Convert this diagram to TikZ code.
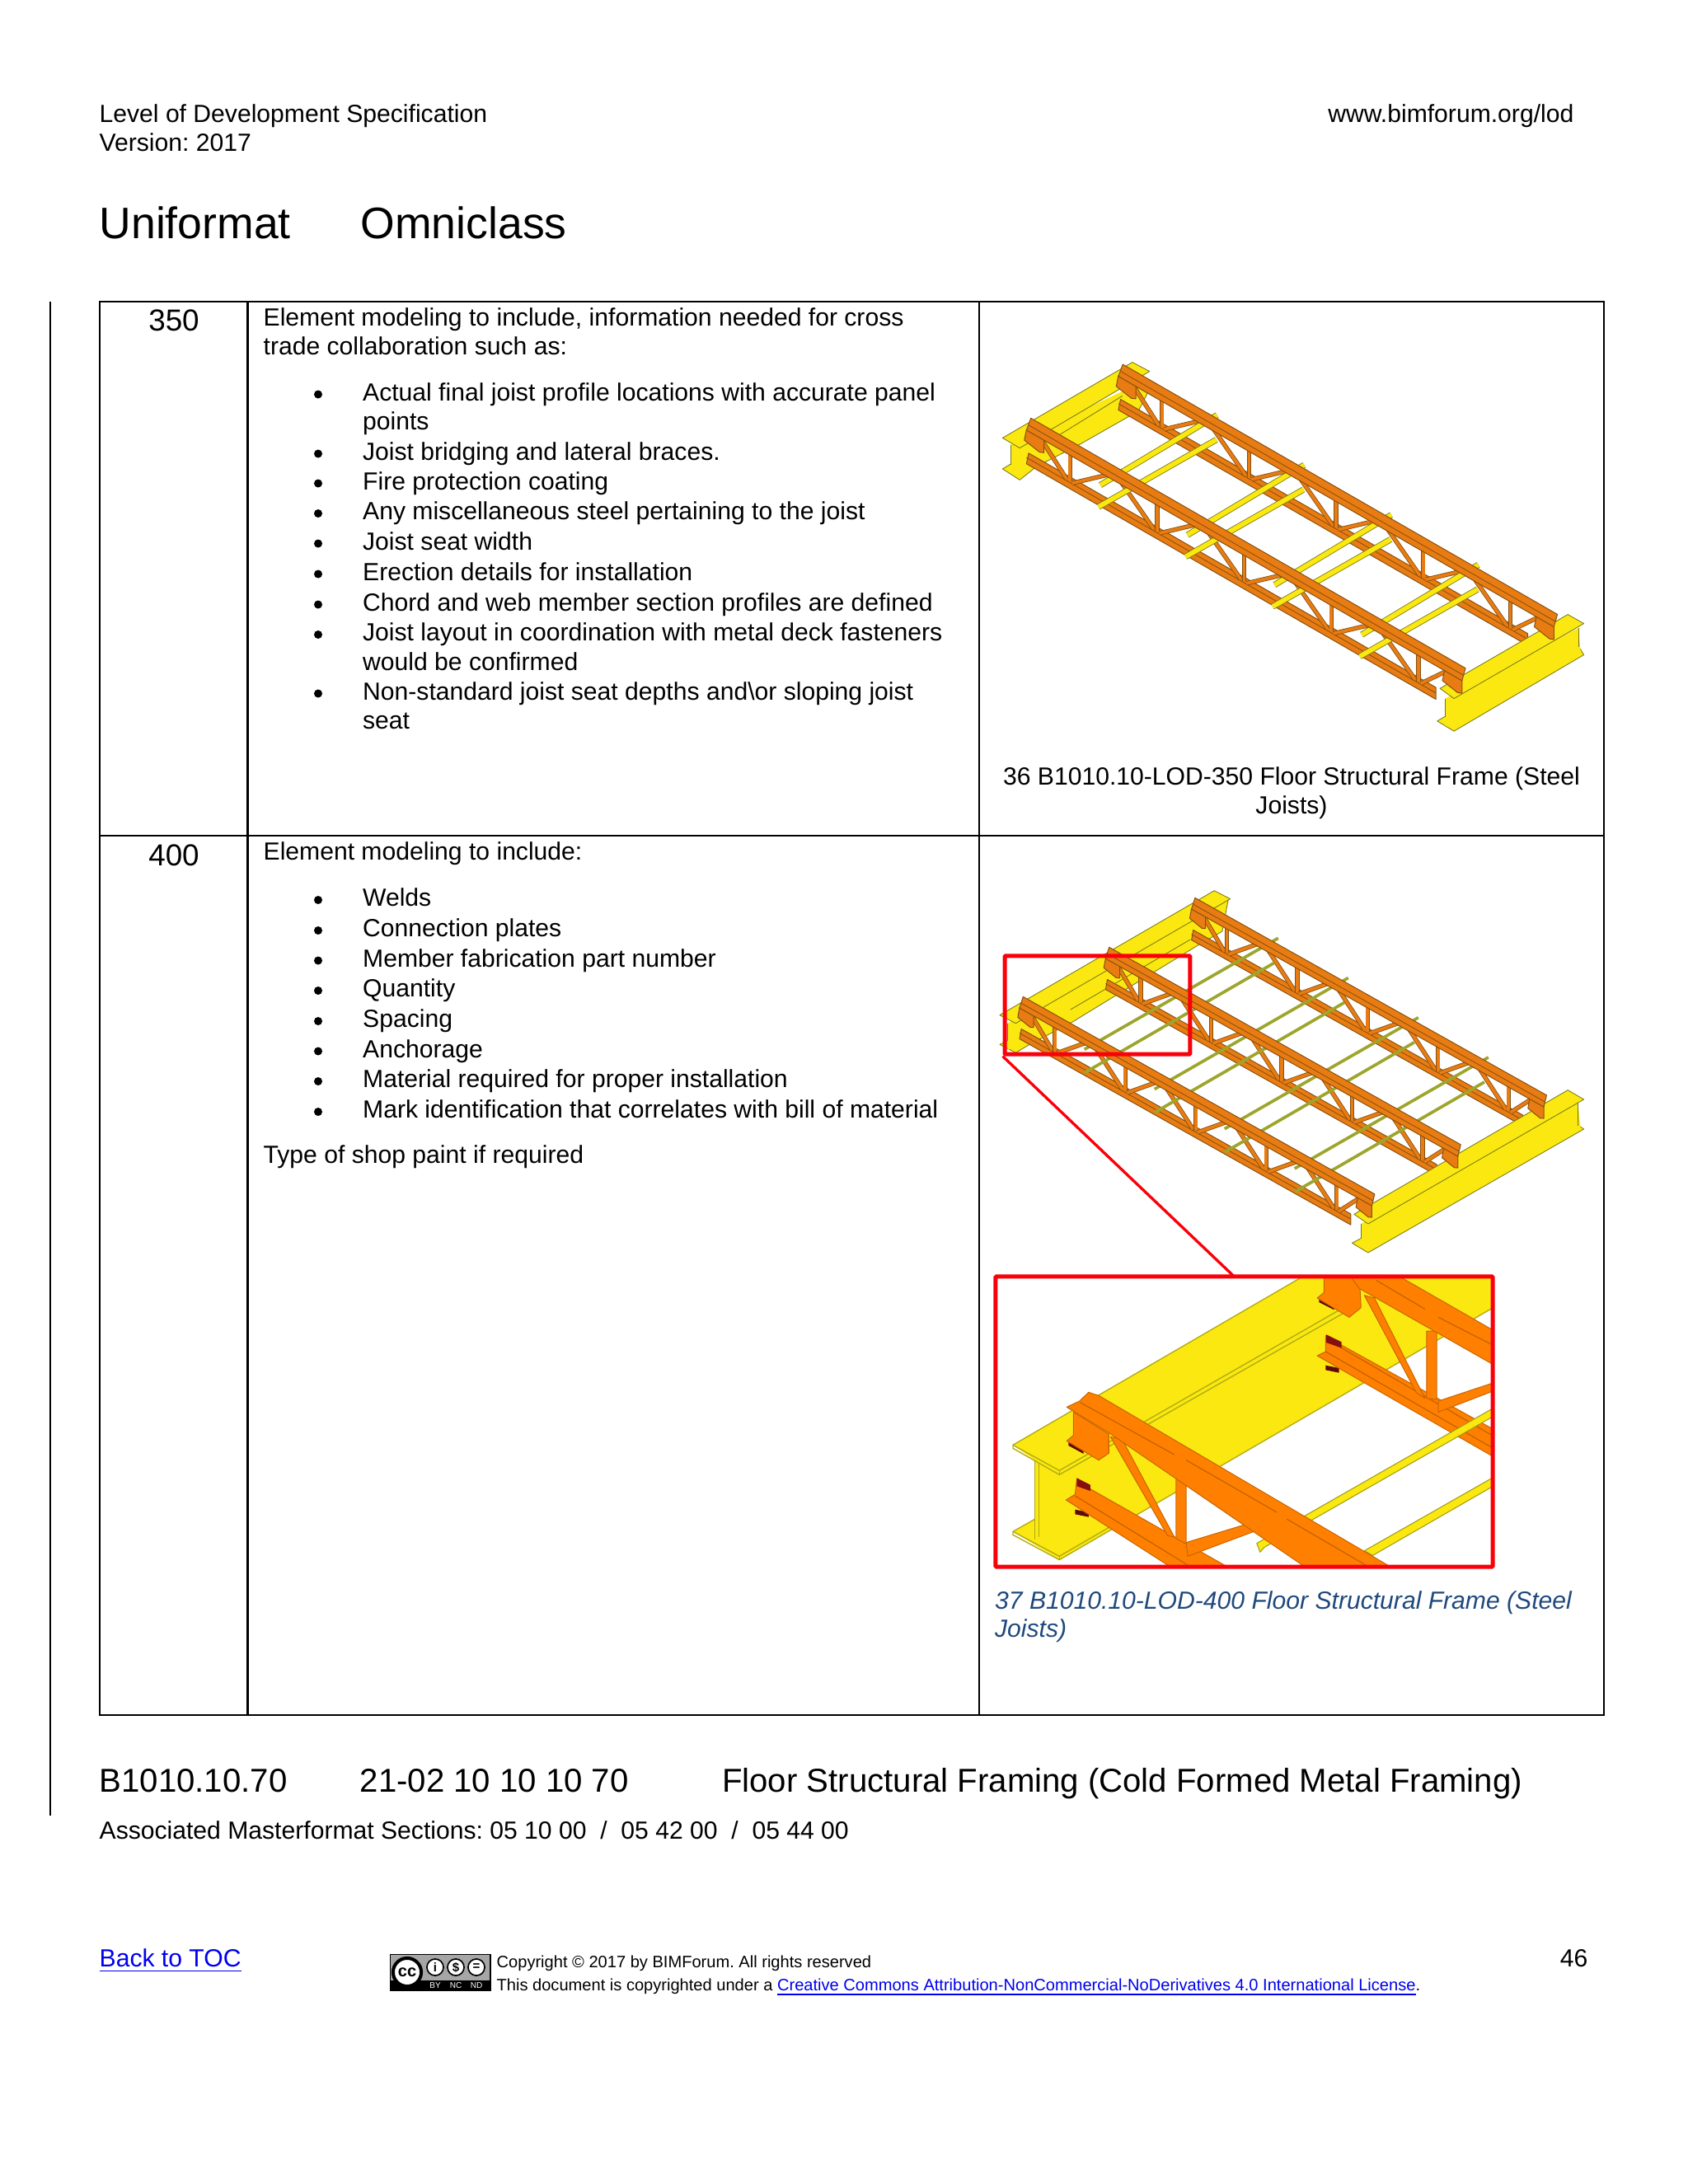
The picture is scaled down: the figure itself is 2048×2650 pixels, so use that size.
\documentclass[tikz,border=0pt]{standalone}
\usepackage{fontspec}
\setmainfont{Liberation Sans}
\usetikzlibrary{positioning}
\definecolor{lodyellow}{RGB}{250,232,16}
\definecolor{lodbeamedge}{RGB}{120,120,20}
\definecolor{lodorange}{RGB}{232,124,18}
\definecolor{lodedge}{RGB}{135,80,15}
\definecolor{lodbright}{RGB}{255,128,0}
\definecolor{lodbrightedge}{RGB}{200,100,0}
\definecolor{lodolive}{RGB}{158,165,45}
\definecolor{lodred}{RGB}{250,0,10}
\definecolor{lodmaroon}{RGB}{135,15,15}
\definecolor{lodlink}{RGB}{0,0,238}
\definecolor{lodcaption}{RGB}{31,73,125}
\tikzset{
  bodytext/.style={anchor=base west,inner sep=0pt,font=\fontsize{9}{10}\selectfont},
  tinytext/.style={anchor=base west,inner sep=0pt,font=\fontsize{6}{7}\selectfont},
  rowlabel/.style={anchor=base,inner sep=0pt,font=\fontsize{11}{12}\selectfont},
  headtext/.style={anchor=base west,inner sep=0pt,font=\fontsize{16}{18}\selectfont},
  nexttext/.style={anchor=base west,inner sep=0pt,font=\fontsize{12}{14}\selectfont},
  captext/.style={anchor=base,inner sep=0pt,font=\fontsize{9}{10}\selectfont},
  bulletdot/.style={circle,fill=black,inner sep=0pt,minimum size=3pt},
  gridline/.style={line width=0.8pt,black},
  beam/.style={fill=lodyellow,draw=lodbeamedge,line width=0.25pt,line join=round},
  beamline/.style={lodbeamedge,line width=0.25pt},
  chord/.style={fill=lodorange,draw=lodedge,line width=0.3pt,line join=round},
  webbar/.style={draw=lodedge,double=lodorange,line width=0.25pt,double distance=1.1pt},
  bridgewide/.style={draw=lodbeamedge,double=lodyellow,line width=0.25pt,double distance=1.7pt},
  bridgethin/.style={lodolive,line width=1.1pt},
  bigbeam/.style={draw=lodbeamedge!55!lodyellow,line width=0.4pt,line join=round},
  bigsteel/.style={fill=lodbright,draw=lodbrightedge,line width=0.3pt,line join=round},
  bigbridge/.style={fill=lodyellow,draw=lodbeamedge!70!lodyellow,line width=0.3pt,line join=round},
  bigslot/.style={lodbrightedge,line width=0.4pt},
  redbox/.style={draw=lodred,line width=1.5pt,inner sep=0pt,rounded corners=0.3pt},
  ccdisc/.style={circle,fill=white,draw=black,line width=0.5pt,inner sep=0pt,minimum size=6pt,text=black,
    font=\fontsize{4.5}{4.5}\selectfont\bfseries},
}
% bottom chord and web of one joist
\newcommand{\joistlow}[2]{
  \begin{scope}[shift={(#1,#2)},x={(\ux,\uy)},y={(0,\wy)}]
    \filldraw[chord] (0.5,8.8) -- (94,8.8) -- (94,12.4) -- (0,12.4) -- cycle;
    \draw[lodedge,line width=0.25pt] (0,10.5) -- (94,10.5);
    \foreach \u/\s/\e in {10/2.5/19,30/21.5/39,50/41.5/59,70/61.5/79,90/81.5/97} {
      \draw[webbar] (\s,1.2) -- (\u-0.8,10);
      \draw[webbar] (\u,0) -- (\u,10);
      \draw[webbar] (\u+0.5,10.3) -- (\e,1.2);
    }
  \end{scope}
}
% top chord and the two seats of one joist
\newcommand{\joisttop}[2]{
  \begin{scope}[shift={(#1,#2)},x={(\ux,\uy)},y={(0,\wy)}]
    \filldraw[chord] (0,2) -- (4,2) -- (4,6) -- (3,6.6) -- (-0.5,5.6) -- cycle;
    \filldraw[chord] (96,2) -- (100,2) -- (100,6) -- (99,6.6) -- (95.5,5.6) -- cycle;
    \filldraw[chord] (1,-2.2) -- (100.8,-2.2) -- (100,2.2) -- (0,2.2) -- cycle;
    \draw[lodedge,line width=0.25pt] (0.4,0.3) -- (100.4,0.3);
  \end{scope}
}

\begin{document}
\frenchspacing
\begin{tikzpicture}[x=0.2988pt,y=-0.2988pt]
\useasboundingbox (0,0) rectangle (2048,2650);
\fill[white] (0,0) rectangle (2048,2650);

% Page header
\node[bodytext] (spec) at (120,148.5) {Level of Development Specification};
\node[bodytext] (version) at (120,183) {Version: 2017};
\node[bodytext,anchor=base east] (site) at (1910,148.5) {www.bimforum.org/lod};
\node[headtext] (uniformat) at (120,289) {Uniformat};
\node[headtext] (omniclass) at (437,289) {Omniclass};

% Table and revision bar
\draw[gridline] (121,366) rectangle (1946,2081);
\draw[gridline] (121,1014) -- (1946,1014);
\draw[gridline] (300.5,366) -- (300.5,2081);
\draw[gridline] (1188,366) -- (1188,2081);
\draw[gridline] (61,366) -- (61,2203);

% Row 350
\node[rowlabel] (row350) at (211,401) {350};
\node[bodytext] (intro350a) at (319,395) {Element modeling to include, information needed for cross};
\node[bodytext] (intro350b) at (319,430) {trade collaboration such as:};
\foreach \ly/\txt [count=\i] in {486/Actual final joist profile locations with accurate panel,
  558/Joist bridging and lateral braces.,594/Fire protection coating,
  630.5/Any miscellaneous steel pertaining to the joist,667/Joist seat width,
  704/Erection details for installation,741/Chord and web member section profiles are defined,
  777.5/Joist layout in coordination with metal deck fasteners,849/Non-standard joist seat depths and\textbackslash or sloping joist} {
  \node[bulletdot] (dot350\i) at (386,\ly-7.5) {};
  \node[bodytext] (item350\i) at (439.5,\ly) {\txt};
}
\node[bodytext] (wrap350a) at (439.5,521) {points};
\node[bodytext] (wrap350b) at (439.5,813) {would be confirmed};
\node[bodytext] (wrap350c) at (439.5,884) {seat};

% Row 400
\node[rowlabel] (row400) at (211,1050) {400};
\node[bodytext] (intro400) at (319,1043.5) {Element modeling to include:};
\foreach \ly/\txt [count=\i] in {1099.5/Welds,1136.5/Connection plates,1173/Member fabrication part number,
  1209.5/Quantity,1246.5/Spacing,1283/Anchorage,1319.5/Material required for proper installation,
  1356.5/Mark identification that correlates with bill of material} {
  \node[bulletdot] (dot400\i) at (386,\ly-7.5) {};
  \node[bodytext] (item400\i) at (439.5,\ly) {\txt};
}
\node[bodytext] (paint) at (319,1411.5) {Type of shop paint if required};

% Joists, LOD 350
\def\ux{5.284}\def\uy{3.04}\def\wy{4}
\begin{scope}[shift={(1180,360)},xscale=0.4847,yscale=0.408]
  \filldraw[beam] (75,512) -- (95,498) -- (160,505) -- (118,545) -- cycle;
  \fill[lodyellow] (95,440) -- (95,508) -- (118,530) -- (160,505) -- (270,438) -- (415,340) -- (445,270) -- (430,250) -- cycle;
  \draw[beamline] (95,440) -- (95,500);
  \draw[beamline] (160,505) -- (270,438) -- (415,340) -- (445,270);
  \filldraw[beam] (75,420) -- (400,195) -- (443,222) -- (118,450) -- cycle;
  \draw[beamline] (205,420) -- (375,295);
\end{scope}
\joistlow{1356.9}{447.8}
\joistlow{1245.4}{513.1}
\foreach \k in {0,1,2,3} {
  \draw[bridgewide] ({1335+105.7*\k},{588.6+60.5*\k}) -- ({1476.6+105.7*\k},{503.7+60.5*\k});
  \draw[bridgewide] ({1332.7+105.7*\k},{615+60.5*\k}) -- ({1475.7+105.7*\k},{533.5+60.5*\k});
}
\begin{scope}[shift={(1180,360)},xscale=0.4847,yscale=0.408]
  \filldraw[beam] (1163,1262) -- (1183,1248) -- (1517,1040) -- (1530,1065) -- (1205,1292) -- cycle;
  \fill[lodyellow] (1183,1195) -- (1183,1275) -- (1205,1285) -- (1522,1060) -- (1517,985) -- cycle;
  \draw[beamline] (1183,1195) -- (1183,1250);
  \draw[beamline] (1517,985) -- (1517,1042);
  \filldraw[beam] (1170,1165) -- (1490,945) -- (1530,972) -- (1205,1195) -- cycle;
\end{scope}
\joisttop{1356.9}{447.8}
\joisttop{1245.4}{513.1}
\node[captext] (cap36a) at (1567,952) {36 B1010.10-LOD-350 Floor Structural Frame (Steel};
\node[captext] (cap36b) at (1567,987) {Joists)};

% Joists, LOD 400
\def\ux{4.274}\def\uy{2.4}\def\wy{3.67}
\begin{scope}[shift={(1180,1040)},xscale=0.4847,yscale=0.3333]
  \filldraw[beam] (68,682) -- (88,668) -- (145,680) -- (108,712) -- cycle;
  \fill[lodyellow] (88,605) -- (88,700) -- (145,680) -- (250,600) -- (565,320) -- (625,270) -- (640,155) -- cycle;
  \draw[beamline] (88,605) -- (88,668);
  \draw[beamline] (145,680) -- (250,600) -- (565,320) -- (625,270) -- (640,155);
  \filldraw[beam] (68,575) -- (605,122) -- (645,152) -- (108,605) -- cycle;
  \draw[beamline] (245,555) -- (545,300);
\end{scope}
\joistlow{1445.6}{1095}
\joistlow{1341.4}{1155}
\joistlow{1237}{1215}
\foreach \k in {0,1,2,3} {
  \draw[bridgethin] ({1315.7+85*\k},{1273.3+48.2*\k}) -- ({1550.8+85*\k},{1138.3+48.2*\k});
  \draw[bridgethin] ({1315.7+85*\k},{1301.7+48.2*\k}) -- ({1546+85*\k},{1168.3+48.2*\k});
}
\begin{scope}[shift={(1180,1040)},xscale=0.4847,yscale=0.3333]
  \filldraw[beam] (950,1405) -- (972,1388) -- (1515,975) -- (1530,990) -- (990,1440) -- cycle;
  \fill[lodyellow] (972,1335) -- (972,1400) -- (990,1432) -- (1522,985) -- (1515,895) -- cycle;
  \draw[beamline] (972,1335) -- (972,1390);
  \draw[beamline] (1515,895) -- (1515,978);
  \filldraw[beam] (955,1300) -- (1490,848) -- (1530,882) -- (990,1335) -- cycle;
\end{scope}
\joisttop{1445.6}{1095}
\joisttop{1341.4}{1155}
\joisttop{1237}{1215}

% Enlarged corner of the frame
\begin{scope}
\clip (1208,1549) rectangle (1811,1901);
\begin{scope}[shift={(1180,1500)},xscale=0.408,yscale=0.3333]
  \fill[lodyellow] (120,760) -- (980,148) -- (1545,148) -- (1545,262) -- (258,1178) -- (120,1075) -- (185,1030) -- (185,815) -- cycle;
  \draw[bigbeam] (980,148) -- (120,760) -- (258,853) -- (1100,262);
  \draw[bigbeam] (120,760) -- (120,772) -- (258,868) -- (1110,275);
  \draw[bigbeam] (258,853) -- (258,868);
  \draw[bigbeam] (185,815) -- (185,1105);
  \draw[bigbeam] (197,825) -- (197,1095);
  \draw[bigbeam] (185,1030) -- (120,1075) -- (258,1165) -- (420,1050);
  \draw[bigbeam] (120,1075) -- (120,1087) -- (258,1178) -- (1545,262);
  \draw[bigbeam] (258,1165) -- (258,1178);
  % back joist, low parts
  \fill[lodmaroon!70!black] (1050,470) -- (1090,480) -- (1090,497) -- (1050,487) -- cycle;
  \filldraw[bigsteel] (1050,362) -- (1095,395) -- (1545,700) -- (1545,800) -- (1025,435) -- (1050,420) -- cycle;
  \draw[bigslot] (1050,420) -- (1545,770);
  \draw[bigslot] (1095,405) -- (1545,725);
  \fill[lodmaroon] (1052,358) -- (1097,385) -- (1097,407) -- (1052,387) -- cycle;
  \filldraw[bigsteel] (1165,215) -- (1195,225) -- (1345,590) -- (1320,570) -- cycle;
  \filldraw[bigsteel] (1350,345) -- (1380,345) -- (1380,595) -- (1350,590) -- cycle;
  \filldraw[bigsteel] (1385,600) -- (1545,535) -- (1545,565) -- (1385,640) -- cycle;
  % front joist, low parts
  \fill[lodmaroon!70!black] (305,995) -- (345,1005) -- (345,1022) -- (305,1012) -- cycle;
  \filldraw[bigsteel] (310,885) -- (350,920) -- (760,1205) -- (590,1205) -- (278,960) -- (305,940) -- cycle;
  \draw[bigslot] (305,945) -- (650,1205);
  \fill[lodmaroon] (310,880) -- (350,905) -- (350,927) -- (310,910) -- cycle;
  \filldraw[bigsteel] (410,730) -- (445,740) -- (600,1095) -- (580,1090) -- cycle;
  \filldraw[bigsteel] (605,865) -- (635,870) -- (635,1120) -- (605,1100) -- cycle;
  \filldraw[bigsteel] (635,1115) -- (850,1035) -- (880,1055) -- (640,1165) -- cycle;
  \filldraw[bigsteel] (955,1105) -- (975,1105) -- (1040,1205) -- (1000,1205) -- cycle;
  % bridging
  \filldraw[bigbridge] (845,1118) -- (1545,628) -- (1545,658) -- (868,1132) -- (855,1150) -- cycle;
  \filldraw[bigbridge] (1165,1145) -- (1545,880) -- (1545,912) -- (1190,1162) -- cycle;
  % seats and top chords
  \fill[lodmaroon!70!black] (1030,228) -- (1075,258) -- (1075,268) -- (1030,240) -- cycle;
  \filldraw[bigsteel] (1045,140) -- (1150,140) -- (1155,260) -- (1120,295) -- (1025,225) -- (1045,205) -- cycle;
  \filldraw[bigsteel] (1120,140) -- (1260,140) -- (1545,340) -- (1545,465) -- (1150,190) -- cycle;
  \draw[bigslot] (1200,160) -- (1345,265);
  \draw[bigslot] (1385,295) -- (1545,395);
  \fill[lodmaroon!70!black] (285,745) -- (330,778) -- (330,792) -- (285,762) -- cycle;
  \filldraw[bigsteel] (300,640) -- (405,720) -- (405,790) -- (375,815) -- (280,745) -- (300,725) -- cycle;
  \filldraw[bigsteel] (345,568) -- (375,580) -- (1245,1205) -- (990,1205) -- (405,715) -- (280,622) -- (318,600) -- cycle;
  \draw[bigslot] (320,605) -- (600,795);
  \draw[bigslot] (635,815) -- (905,1005);
  \draw[bigslot] (935,1030) -- (1180,1205);
\end{scope}
\end{scope}

% Call-out boxes
\node[redbox,minimum width=67.2pt,minimum height=35.6pt] (detailmark) at (1331.5,1219.5) {};
\node[redbox,minimum width=180.2pt,minimum height=105.2pt] (detailview) at (1509.5,1725) {};
\coordinate (detailtop) at (1497.5,1549);
\draw[lodred,line width=1pt] (detailmark.south west) -- (detailtop);
\node[bodytext,text=lodcaption,font=\fontsize{9}{10}\selectfont\itshape] (cap37a) at (1206.5,1952) {37 B1010.10-LOD-400 Floor Structural Frame (Steel};
\node[bodytext,text=lodcaption,font=\fontsize{9}{10}\selectfont\itshape] (cap37b) at (1206.5,1986) {Joists)};

% Next section title
\node[nexttext] (nextcode) at (120,2174) {B1010.10.70};
\node[nexttext] (nextomni) at (436,2174) {21-02 10 10 10 70};
\node[nexttext] (nexttitle) at (875.5,2174) {Floor Structural Framing (Cold Formed Metal Framing)};
\node[bodytext] (masterformat) at (120,2231.5) {Associated Masterformat Sections: 05 10 00 \ / \ 05 42 00 \ / \ 05 44 00};

% Page footer
\node[bodytext,text=lodlink] (toc) at (120,2386.5) {\underline{Back to TOC}};
\node[bodytext,anchor=base east] (pagenum) at (1927,2386.5) {46};
\node[tinytext] (copy) at (602,2387) {Copyright © 2017 by BIMForum. All rights reserved};
\node[tinytext] (license) at (602,2415) {This document is copyrighted under a \textcolor{lodlink}{\underline{Creative Commons Attribution-NonCommercial-NoDerivatives 4.0 International License}}.};

% Licence badge
\filldraw[fill=black!35,draw=black,line width=0.5pt] (473.5,2371.5) rectangle (595,2415);
\fill[black] (473.5,2403) rectangle (595,2415);
\node[ccdisc,line width=1.2pt,minimum size=10.2pt,font=\fontsize{6}{6}\selectfont\bfseries] (ccmain) at (494,2393) {cc};
\node[ccdisc] (ccby) at (528,2387) {i};
\node[ccdisc] (ccnc) at (553,2387) {\$};
\node[ccdisc] (ccnd) at (578,2387) {=};
\node[inner sep=0pt,text=white,font=\fontsize{3}{3}\selectfont] (ccbytext) at (528,2409) {BY};
\node[inner sep=0pt,text=white,font=\fontsize{3}{3}\selectfont] (ccnctext) at (553,2409) {NC};
\node[inner sep=0pt,text=white,font=\fontsize{3}{3}\selectfont] (ccndtext) at (578,2409) {ND};
\end{tikzpicture}
\end{document}
